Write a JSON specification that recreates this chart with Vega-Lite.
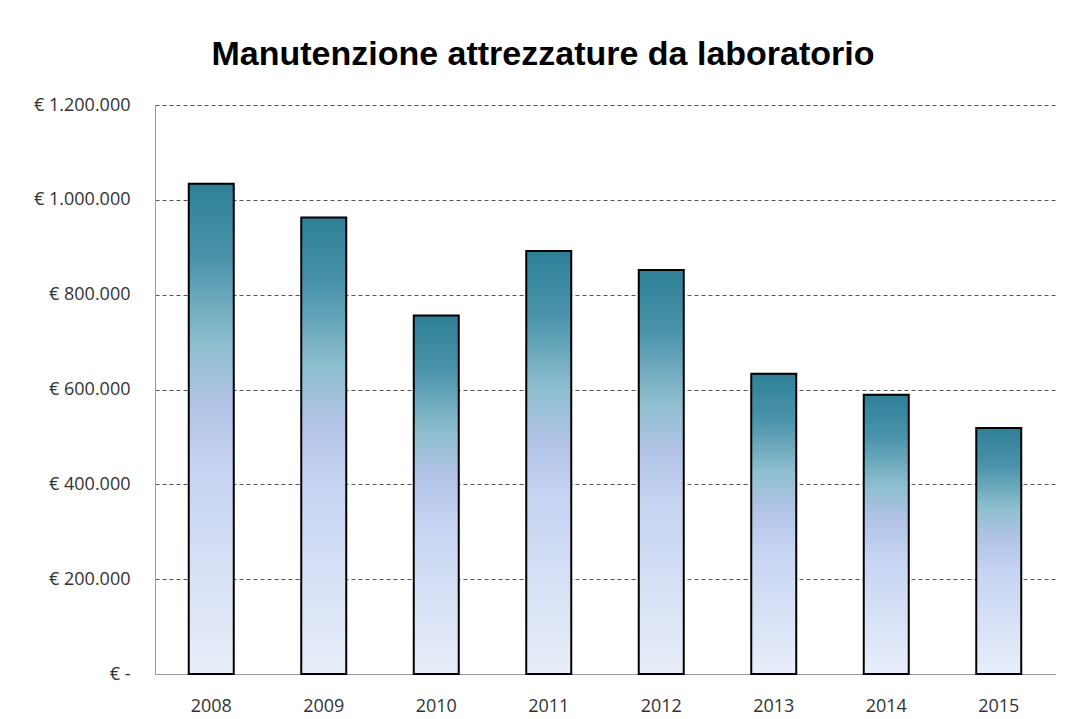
{
  "$schema": "https://vega.github.io/schema/vega-lite/v6.json",
  "autosize": "none",
  "width": 900,
  "height": 569,
  "padding": {"left": 155, "top": 105, "right": 10, "bottom": 45},
  "background": "white",
  "title": {
    "text": "Manutenzione attrezzature da laboratorio",
    "font": "Liberation Sans",
    "fontSize": 34,
    "fontWeight": "bold",
    "color": "#000000",
    "anchor": "middle",
    "frame": "group",
    "dx": -62,
    "offset": 24
  },
  "data": {
    "values": [
      {"anno": "2008", "valore": 1034000},
      {"anno": "2009", "valore": 963000},
      {"anno": "2010", "valore": 756000},
      {"anno": "2011", "valore": 892000},
      {"anno": "2012", "valore": 852000},
      {"anno": "2013", "valore": 633000},
      {"anno": "2014", "valore": 589000},
      {"anno": "2015", "valore": 519000}
    ]
  },
  "mark": {
    "type": "bar",
    "stroke": "#000000",
    "strokeWidth": 2,
    "color": {
      "gradient": "linear",
      "x1": 0, "y1": 0, "x2": 0, "y2": 1,
      "stops": [
        {"offset": 0, "color": "#2e8097"},
        {"offset": 0.15, "color": "#4a93aa"},
        {"offset": 0.33, "color": "#8fbfcf"},
        {"offset": 0.45, "color": "#b2c3e6"},
        {"offset": 0.58, "color": "#c6d4f2"},
        {"offset": 1, "color": "#e8eef9"}
      ]
    }
  },
  "encoding": {
    "x": {
      "field": "anno",
      "type": "ordinal",
      "scale": {"paddingInner": 0.6, "paddingOuter": 0.3},
      "axis": {
        "title": null,
        "labelAngle": 0,
        "ticks": false,
        "domainColor": "#999999",
        "labelFont": "Open Sans",
        "labelFontSize": 18,
        "labelColor": "#333333",
        "labelPadding": 23
      }
    },
    "y": {
      "field": "valore",
      "type": "quantitative",
      "scale": {"domain": [0, 1200000], "nice": false},
      "axis": {
        "title": null,
        "values": [0, 200000, 400000, 600000, 800000, 1000000, 1200000],
        "labelExpr": "datum.value == 0 ? '€ -' : '€ ' + replace(format(datum.value, ','), regexp(',', 'g'), '.')",
        "ticks": false,
        "domainColor": "#999999",
        "gridColor": "#555555",
        "gridDash": [4, 3],
        "gridWidth": 1,
        "labelFont": "Open Sans",
        "labelFontSize": 18,
        "labelColor": "#333333",
        "labelPadding": 25
      }
    }
  },
  "config": {
    "view": {"stroke": null}
  }
}
